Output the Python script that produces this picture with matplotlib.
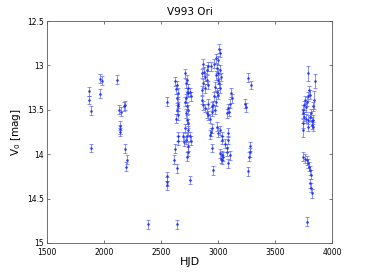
import numpy as np
import matplotlib
matplotlib.use('Agg')
import matplotlib.pyplot as plt
from matplotlib.ticker import FuncFormatter

# V993 Ori photometry
hjd = [
    # 1850-2400
    1874, 1874, 1888, 1885, 1969, 1984, 1967, 2118, 2136, 2150,
    2142, 2145, 2138, 2177, 2188, 2185, 2200, 2197, 2389,
    # 2540-2800
    2556, 2550, 2553, 2550, 2638, 2754, 2623, 2638, 2630, 2652,
    2638, 2645, 2640, 2635, 2652, 2648, 2623, 2614, 2638, 2652, 2645,
    2712, 2726, 2719, 2740, 2726, 2740, 2719, 2712, 2726, 2733,
    2719, 2726, 2740, 2712, 2733, 2726, 2719, 2740, 2733, 2726,
    2696, 2705, 2754, 2760, 2754, 2760,
    # 2850-3130
    3008, 3017, 2979, 3002, 2967, 2871, 2915, 2938, 2900, 2880,
    2862, 2886, 2900, 2871, 2909, 2886, 2856, 2988, 3017, 3002,
    2979, 3026, 2996, 3008, 2973, 3017, 2988, 3002, 2967, 2979,
    2958, 2944, 2856, 2871, 2886, 2900, 2915, 2929, 2944, 2973,
    2909, 3113, 3119, 3104, 3090, 3075, 3096, 2944, 2938, 2929,
    2988, 3017, 3002, 3031, 3037, 3061, 3084, 3090, 3075, 2944,
    3017, 3031, 3026, 3046, 3037, 3075, 3090, 3104, 2958,
    # 3230-3300
    3265, 3285, 3240, 3245, 3280, 3278, 3274, 3262,
    # 3740-3870
    3791, 3849, 3799, 3805, 3791, 3761, 3776, 3756, 3770, 3747,
    3741, 3753, 3770, 3791, 3805, 3820, 3834, 3820, 3791, 3747,
    3747, 3834, 3840, 3829, 3811,
    3747, 3761, 3776, 3791, 3805, 3814, 3799, 3805, 3814, 3820,
    3775,
]
mag = [
    13.29, 13.39, 13.51, 13.93, 13.15, 13.17, 13.32, 13.16, 13.50, 13.52,
    13.68, 13.72, 13.75, 13.46, 13.45, 13.94, 14.06, 14.14, 14.79,
    13.41, 14.25, 14.31, 14.35, 14.79, 14.29, 13.18, 13.22, 13.27, 13.31,
    13.37, 13.43, 13.50, 13.60, 13.56, 13.46, 13.94, 14.06, 14.16, 13.80, 13.85,
    13.09, 13.16, 13.20, 13.26, 13.30, 13.31, 13.37, 13.41, 13.46, 13.50,
    13.54, 13.61, 13.65, 13.71, 13.73, 13.80, 13.84, 13.91, 13.97, 14.03,
    13.80, 13.86, 13.30, 13.35, 13.80, 13.85,
    12.81, 12.86, 12.92, 12.94, 12.98, 12.98, 13.01, 13.01, 13.05, 13.07,
    13.09, 13.13, 13.16, 13.20, 13.22, 13.26, 13.28, 13.03, 13.05, 13.09,
    13.11, 13.13, 13.16, 13.20, 13.24, 13.26, 13.30, 13.33, 13.35, 13.41,
    13.45, 13.46, 13.39, 13.45, 13.48, 13.54, 13.56, 13.60, 13.52, 13.50,
    13.43, 13.31, 13.37, 13.43, 13.48, 13.54, 13.52, 13.71, 13.75, 13.78,
    13.69, 13.73, 13.76, 13.80, 13.84, 13.88, 13.76, 13.84, 13.93, 13.93,
    13.99, 14.01, 14.05, 14.03, 14.06, 13.97, 14.10, 14.01, 14.18,
    13.14, 13.22, 13.43, 13.47, 13.91, 13.98, 14.03, 14.19,
    13.09, 13.18, 13.28, 13.33, 13.35, 13.39, 13.41, 13.45, 13.47, 13.50,
    13.54, 13.58, 13.60, 13.61, 13.58, 13.63, 13.69, 13.67, 13.69, 13.65,
    13.73, 13.61, 13.39, 13.46, 13.54,
    14.03, 14.05, 14.07, 14.10, 14.18, 14.23, 14.14, 14.33, 14.38, 14.44,
    14.76,
]
err = [0.05] * len(mag)
# a few visibly longer bars
for i, (t, m) in enumerate(zip(hjd, mag)):
    if t > 3700 and m < 13.2:
        err[i] = 0.08
    if t == 3840 and m == 13.39:
        err[i] = 0.1
    if t == 3747 and m == 13.73:
        err[i] = 0.08

fig = plt.figure(figsize=(3.66, 2.75), dpi=100)
ax = fig.add_axes([0.1276, 0.1164, 0.7804, 0.8072])

ax.errorbar(hjd, mag, yerr=err, fmt='.', color='#2233ee', ecolor='#5a66ff',
            markersize=1.6, elinewidth=0.5, capsize=1.6, capthick=0.5)

ax.set_xlim(1500, 4000)
ax.set_ylim(15, 12.5)
ax.set_xticks(np.arange(1500, 4001, 500))
ax.set_yticks(np.arange(12.5, 15.01, 0.5))
ax.yaxis.set_major_formatter(FuncFormatter(lambda v, p: f'{v:g}'))
ax.tick_params(direction='in', top=True, right=True, labelsize=5.5,
               length=2.5, width=0.5, colors='0.25', labelcolor='black', pad=2)
ax.tick_params(axis='x', pad=3.5)
for s in ax.spines.values():
    s.set_linewidth(0.6)
    s.set_color('0.35')

ax.set_title('V993 Ori', fontsize=7.5, pad=4)
ax.set_xlabel('HJD', fontsize=8, labelpad=0)
ax.set_ylabel('V$_0$ [mag]', fontsize=7.5, labelpad=3)

fig.savefig('out.png', dpi=100)
